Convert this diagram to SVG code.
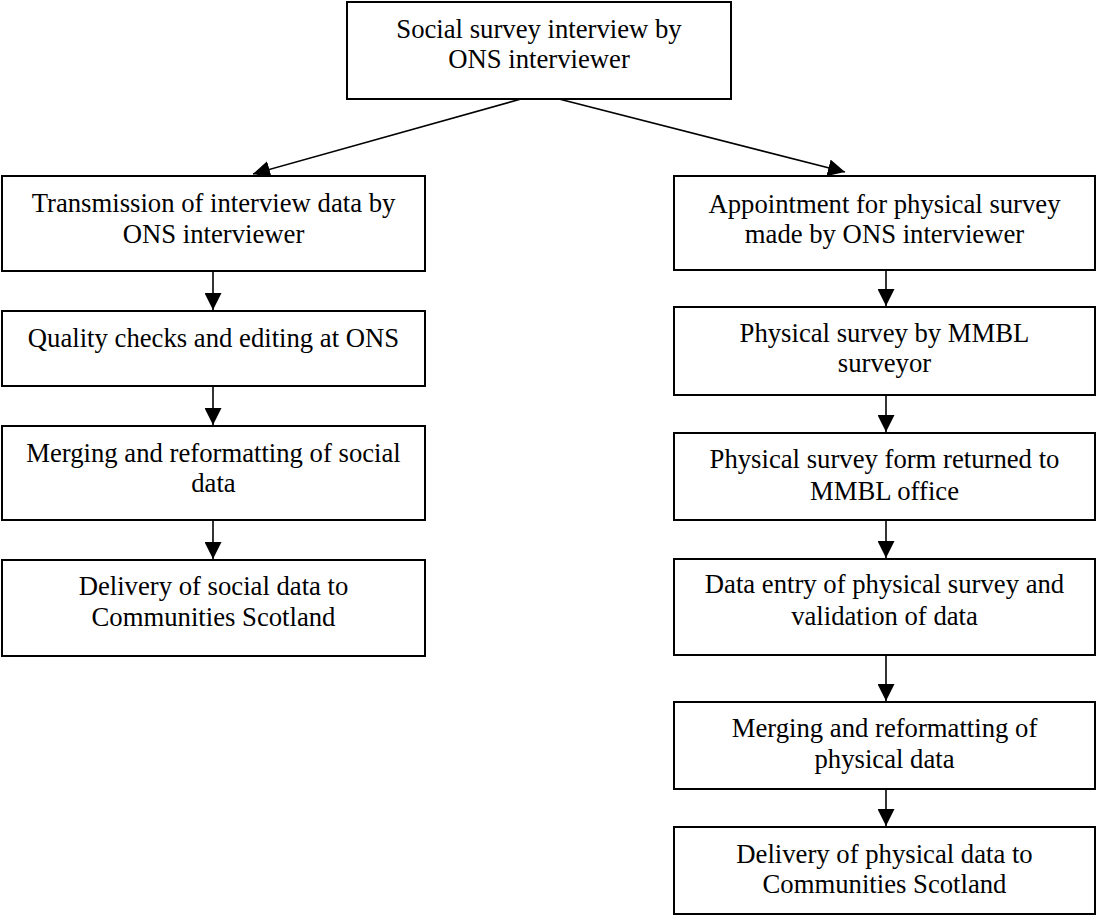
<svg xmlns="http://www.w3.org/2000/svg" width="1097" height="916" viewBox="0 0 1097 916">
<defs>
<style>
.box{fill:#fff;stroke:#000;stroke-width:2}
.t{font-family:"Liberation Serif","Times New Roman",serif;font-size:26.7px;fill:#000;text-anchor:middle}
.c{stroke:#000;stroke-width:1.6;fill:none;marker-end:url(#ah)}
</style>
<marker id="ah" markerUnits="userSpaceOnUse" markerWidth="17" markerHeight="17" viewBox="0 0 16 16" refX="16" refY="8" orient="auto">
<path d="M0,0 L16,8 L0,16 Z" fill="#000"/>
</marker>
</defs>
<rect width="1097" height="916" fill="#fff"/>
<g id="connectors">
<line class="c" x1="521" y1="99" x2="253" y2="174"/>
<line class="c" x1="559" y1="99" x2="845" y2="172"/>
<line class="c" x1="213" y1="271" x2="213" y2="310"/>
<line class="c" x1="213" y1="386" x2="213" y2="425"/>
<line class="c" x1="213" y1="520" x2="213" y2="559"/>
<line class="c" x1="886" y1="270" x2="886" y2="306"/>
<line class="c" x1="886" y1="395" x2="886" y2="432"/>
<line class="c" x1="886" y1="520" x2="886" y2="558"/>
<line class="c" x1="886" y1="655" x2="886" y2="701"/>
<line class="c" x1="886" y1="789" x2="886" y2="826"/>
</g>
<g id="top">
<rect class="box" x="347" y="2" width="384" height="97"/>
<text class="t" x="539" y="38">Social survey interview by</text>
<text class="t" x="539" y="68">ONS interviewer</text>
</g>
<g id="l1">
<rect class="box" x="2" y="176" width="423" height="95"/>
<text class="t" x="213.5" y="212">Transmission of interview data by</text>
<text class="t" x="213.5" y="243">ONS interviewer</text>
</g>
<g id="l2">
<rect class="box" x="2" y="311" width="423" height="75"/>
<text class="t" x="213.5" y="347">Quality checks and editing at ONS</text>
</g>
<g id="l3">
<rect class="box" x="2" y="426" width="423" height="94"/>
<text class="t" x="213.5" y="462">Merging and reformatting of social</text>
<text class="t" x="213.5" y="492">data</text>
</g>
<g id="l4">
<rect class="box" x="2" y="560" width="423" height="96"/>
<text class="t" x="213.5" y="595">Delivery of social data to</text>
<text class="t" x="213.5" y="626">Communities Scotland</text>
</g>
<g id="r1">
<rect class="box" x="674" y="176" width="421" height="94"/>
<text class="t" x="884.5" y="213">Appointment for physical survey</text>
<text class="t" x="884.5" y="243">made by ONS interviewer</text>
</g>
<g id="r2">
<rect class="box" x="674" y="307" width="421" height="88"/>
<text class="t" x="884.5" y="342">Physical survey by MMBL</text>
<text class="t" x="884.5" y="372">surveyor</text>
</g>
<g id="r3">
<rect class="box" x="674" y="433" width="421" height="87"/>
<text class="t" x="884.5" y="468">Physical survey form returned to</text>
<text class="t" x="884.5" y="500">MMBL office</text>
</g>
<g id="r4">
<rect class="box" x="674" y="559" width="421" height="96"/>
<text class="t" x="884.5" y="593">Data entry of physical survey and</text>
<text class="t" x="884.5" y="625">validation of data</text>
</g>
<g id="r5">
<rect class="box" x="674" y="702" width="421" height="87"/>
<text class="t" x="884.5" y="737">Merging and reformatting of</text>
<text class="t" x="884.5" y="768">physical data</text>
</g>
<g id="r6">
<rect class="box" x="674" y="827" width="421" height="87"/>
<text class="t" x="884.5" y="863">Delivery of physical data to</text>
<text class="t" x="884.5" y="893">Communities Scotland</text>
</g>
</svg>
